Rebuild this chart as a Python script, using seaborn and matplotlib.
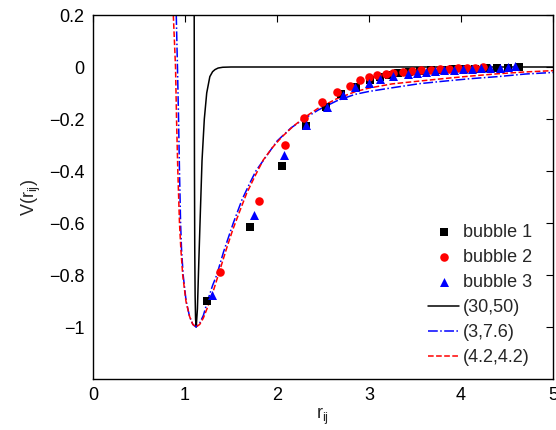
#%%
# Import libraries
import matplotlib
matplotlib.use("Agg")
import seaborn as sns
import matplotlib.pyplot as plt

#%%
# Measured pair data (r_ij, V) for the three bubbles
bubble1_r = [1.24, 1.71, 2.05, 2.31, 2.53, 2.70, 2.86, 3.01, 3.12, 3.22, 3.32, 3.43,
             3.55, 3.67, 3.79, 3.91, 4.03, 4.15, 4.27, 4.39, 4.51, 4.63]
bubble1_v = [-0.90, -0.615, -0.38, -0.225, -0.155, -0.105, -0.078, -0.051, -0.038, -0.03,
             -0.024, -0.019, -0.016, -0.013, -0.011, -0.009, -0.008, -0.006, -0.005,
             -0.004, -0.003, -0.001]

bubble2_r = [1.38, 1.80, 2.09, 2.29, 2.49, 2.65, 2.79, 2.90, 3.00, 3.09, 3.19, 3.26,
             3.37, 3.47, 3.57, 3.67, 3.77, 3.87, 3.97, 4.06, 4.15, 4.24]
bubble2_v = [-0.79, -0.515, -0.30, -0.195, -0.136, -0.096, -0.073, -0.051, -0.038, -0.032,
             -0.026, -0.024, -0.019, -0.015, -0.012, -0.010, -0.008, -0.006, -0.004,
             -0.003, -0.002, -0.001]

bubble3_r = [1.29, 1.75, 2.08, 2.32, 2.54, 2.72, 2.85, 3.00, 3.12, 3.26, 3.42, 3.52,
             3.62, 3.72, 3.82, 3.92, 4.02, 4.12, 4.22, 4.32, 4.42, 4.51, 4.59]
bubble3_v = [-0.877, -0.57, -0.34, -0.223, -0.154, -0.109, -0.077, -0.06, -0.045, -0.035,
             -0.026, -0.022, -0.018, -0.015, -0.012, -0.010, -0.008, -0.006, -0.005,
             -0.003, -0.002, 0.0, 0.004]

# Fitted potentials
fit_30_50_r = [1.098, 1.100, 1.101, 1.103, 1.106, 1.110, 1.115, 1.122, 1.135, 1.150,
               1.165, 1.185, 1.210, 1.236, 1.270, 1.300, 1.326, 1.360, 1.410, 1.500, 5.0]
fit_30_50_v = [0.4, 0.2, 0.0, -0.4, -0.7, -0.88, -0.97, -1.0, -0.93, -0.75,
               -0.58, -0.36, -0.2, -0.10, -0.037, -0.018, -0.01, -0.004, -0.001, 0.0, 0.0]

fit_3_76_r = [0.895, 0.905, 0.918, 0.930, 0.940, 0.952, 0.962, 0.980, 1.012, 1.050, 1.085,
              1.12, 1.16, 1.20, 1.245, 1.30, 1.345, 1.42, 1.525, 1.62, 1.70, 1.77, 1.87,
              2.0, 2.15, 2.29, 2.45, 2.65, 2.85, 3.0, 3.25, 3.55, 3.8, 4.1, 4.4, 4.7, 5.0]
fit_3_76_v = [0.4, 0.2, 0.0, -0.2, -0.4, -0.6, -0.7, -0.8, -0.9, -0.96, -0.99,
              -1.0, -0.985, -0.955, -0.9, -0.84, -0.8, -0.71, -0.6, -0.51, -0.45, -0.4, -0.35,
              -0.285, -0.235, -0.2, -0.165, -0.13, -0.105, -0.094, -0.08, -0.064, -0.055,
              -0.045, -0.037, -0.027, -0.021]

fit_42_42_r = [0.855, 0.873, 0.885, 0.897, 0.908, 0.922, 0.940, 0.955, 0.975, 1.010, 1.050,
               1.085, 1.12, 1.16, 1.20, 1.25, 1.30, 1.38, 1.45, 1.52, 1.60, 1.67, 1.76, 1.85,
               1.95, 2.05, 2.17, 2.29, 2.45, 2.65, 2.85, 3.0, 3.25, 3.55, 3.8, 4.1, 4.4, 4.7, 5.0]
fit_42_42_v = [0.4, 0.2, 0.1, 0.0, -0.2, -0.4, -0.6, -0.7, -0.8, -0.9, -0.96,
               -0.99, -1.0, -0.99, -0.965, -0.92, -0.87, -0.78, -0.70, -0.625, -0.55, -0.486,
               -0.42, -0.358, -0.31, -0.27, -0.23, -0.196, -0.158, -0.122, -0.095, -0.081,
               -0.065, -0.054, -0.045, -0.035, -0.026, -0.019, -0.014]

#%%
sns.set_style("white")
plt.rcParams['font.family'] = ['Liberation Sans', 'DejaVu Sans']
plt.rcParams['mathtext.default'] = 'regular'

fig = plt.figure(figsize=(5.56, 4.30), dpi=100)
ax = fig.add_axes([93 / 556, 51 / 430, 460 / 556, 364 / 430])

# Bubble data as markers
sns.scatterplot(x=bubble1_r, y=bubble1_v, marker='s', color='black', s=26,
                linewidth=0, label='bubble 1', ax=ax, zorder=3)
sns.scatterplot(x=bubble2_r, y=bubble2_v, marker='o', color='red', s=38,
                linewidth=0, label='bubble 2', ax=ax, zorder=3)
sns.scatterplot(x=bubble3_r, y=bubble3_v, marker='^', color='blue', s=42,
                linewidth=0, label='bubble 3', ax=ax, zorder=3)

# Potential curves
sns.lineplot(x=fit_30_50_r, y=fit_30_50_v, sort=False, estimator=None, color='black',
             linewidth=1.1, label='(30,50)', ax=ax)
sns.lineplot(x=fit_3_76_r, y=fit_3_76_v, sort=False, estimator=None, color='blue',
             linewidth=1.1, linestyle='-.', label='(3,7.6)', ax=ax)
sns.lineplot(x=fit_42_42_r, y=fit_42_42_v, sort=False, estimator=None, color='red',
             linewidth=1.1, linestyle='--', label='(4.2,4.2)', ax=ax)

ax.set_xlim(0, 5)
ax.set_ylim(-1.2, 0.2)
ax.set_xticks([0, 1, 2, 3, 4, 5])
ax.set_yticks([0.2, 0, -0.2, -0.4, -0.6, -0.8, -1])
ax.set_yticklabels(['0.2', '0', '\u22120.2', '\u22120.4', '\u22120.6', '\u22120.8', '\u22121'])
ax.tick_params(direction='in', length=5, width=0.8, top=True, right=True,
               labelsize=13, colors='black', pad=6)
for side in ax.spines.values():
    side.set_color('black')
    side.set_linewidth(1.0)

ax.set_xlabel('r$_{ij}$', fontsize=13, labelpad=1)
ax.set_ylabel('V(r$_{ij}$)', fontsize=13, labelpad=4)

ax.legend(loc='upper left', bbox_to_anchor=(0.708, 0.451), frameon=False, fontsize=13,
          borderpad=0, handlelength=1.75, handletextpad=0.2, labelspacing=0.45,
          markerscale=1.0, numpoints=1)

fig.savefig('out.png', dpi=100)
